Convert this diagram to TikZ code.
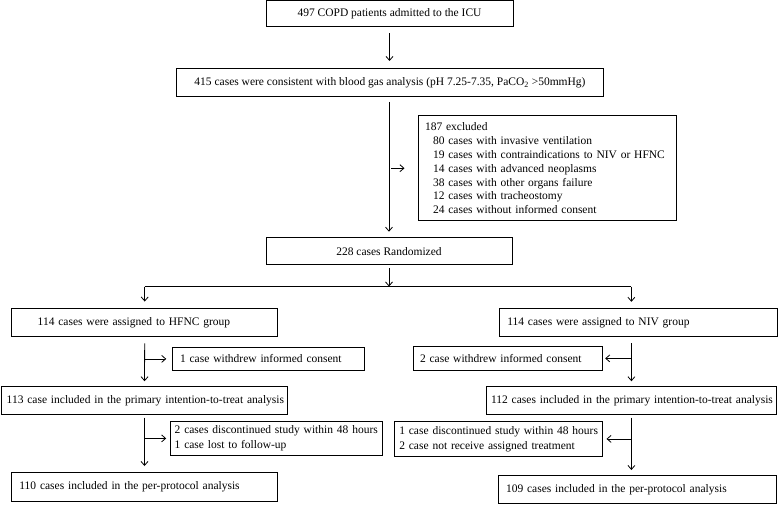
\documentclass[tikz,border=0pt]{standalone}
\usepackage{fontspec}
\setmainfont{Liberation Serif}
\usetikzlibrary{arrows.meta}
\newcommand*{\ind}{\hspace*{8pt}}
\newcommand*{\txt}{\fontsize{11.5}{13.9}\selectfont}
\newcommand*{\txtw}{\fontsize{11.5}{15}\selectfont}

\begin{document}
\begin{tikzpicture}[x=1pt, y=-1pt, font=\txt,
    box/.style={draw, line width=1pt, inner ysep=0pt},
    cbox/.style 2 args={box, align=center, minimum width=#1, minimum height=#2},
    lbox/.style n args={3}{box, align=left, text width=#1, inner xsep=#2, minimum height=#3},
    arr/.style={line width=0.8pt, -{Straight Barb[length=4pt,width=7pt]}}]
    \useasboundingbox (0,0) rectangle (778,505);
        \node [cbox={247pt}{26pt}] (icu) at (389.5,14) {497 COPD patients admitted to the ICU};
        \node [cbox={427pt}{28pt}] (gas) at (390,82.5) {415 cases were consistent with blood gas analysis (pH 7.25-7.35, PaCO\textsubscript{2} >50mmHg)};
        \node [lbox={244pt}{7pt}{105pt}] (excl) at (547,168.2) {187 excluded\\
            \ind 80 cases with invasive ventilation\\
            \ind 19 cases with contraindications to NIV or HFNC\\
            \ind 14 cases with advanced neoplasms\\
            \ind 38 cases with other organs failure\\
            \ind 12 cases with tracheostomy\\
            \ind 24 cases without informed consent};
        \node [cbox={246pt}{27pt}] (rand) at (389,251.2) {228 cases Randomized};
        % HFNC arm
        \node [lbox={214pt}{26pt}{28.7pt}] (hfnc) at (144.7,322.4) {114 cases were assigned to HFNC group};
        \node [lbox={176.7pt}{7.3pt}{22.3pt}] (wdL) at (268.4,358.9) {1 case withdrew informed consent};
        \node [lbox={275.6pt}{5pt}{27.3pt}] (ittL) at (144.5,400.4) {\mbox{113 case included in the primary intention-to-treat analysis}};
        \node [lbox={204pt}{4pt}{33.3pt}, font=\txtw] (discL) at (276.7,438.4) {\mbox{2 cases discontinued study within 48 hours}\\1 case lost to follow-up};
        \node [lbox={249.9pt}{8.3pt}{28.8pt}] (ppL) at (144.3,486.9) {110 cases included in the per-protocol analysis};
        % NIV arm
        \node [lbox={262pt}{8pt}{28.2pt}] (niv) at (638.3,322.4) {114 cases were assigned to NIV group};
        \node [lbox={176pt}{6.7pt}{23.3pt}] (wdR) at (508,358.4) {2 case withdrew informed consent};
        \node [lbox={280.7pt}{5pt}{27.3pt}] (ittR) at (631.4,400.4) {\mbox{112 cases included in the primary intention-to-treat analysis}};
        \node [lbox={197.4pt}{5.3pt}{34.3pt}, font=\txtw] (discR) at (498,438.9) {\mbox{1 case discontinued study within 48 hours}\\\mbox{2 case not receive assigned treatment}};
        \node [lbox={263pt}{7.7pt}{28pt}] (ppR) at (637.5,489.5) {109 cases included in the per-protocol analysis};
        \coordinate (spl) at (389,286.5);
        \draw [arr, shorten <=6pt, shorten >=7pt] (icu.south) -- (icu.south |- gas.north);
        \draw [arr, shorten <=5pt, shorten >=5.5pt] (gas.south -| rand) -- (rand.north);
        \draw [arr, shorten <=2pt, shorten >=13pt] (excl.west -| rand) -- (excl.west);
        \draw [arr, shorten <=3pt] (rand.south) -- (spl);
        \draw [line width=0.8pt] (spl -| hfnc) -- (spl -| ittR);
        \draw [arr, shorten >=6pt] (spl -| hfnc) -- (hfnc.north);
        \draw [arr, shorten >=6pt] (spl -| ittR) -- (niv.north -| ittR);
        \draw [arr, shorten <=6pt, shorten >=5pt] (hfnc.south) -- (ittL.north);
        \draw [arr, shorten >=6pt] (wdL.west -| hfnc) -- (wdL.west);
        \draw [arr, shorten <=3pt, shorten >=6pt] (ittL.south) -- (ppL.north -| ittL);
        \draw [arr, shorten >=4pt] (discL.west -| ittL) -- (discL.west);
        \draw [arr, shorten <=6pt, shorten >=5pt] (niv.south -| ittR) -- (ittR.north);
        \draw [arr, shorten >=2pt] (wdR.east -| ittR) -- (wdR.east);
        \draw [arr, shorten <=3pt, shorten >=5pt] (ittR.south) -- (ppR.north -| ittR);
        \draw [arr, shorten >=4pt] (discR.east -| ittR) -- (discR.east);
    \end{tikzpicture}
\end{document}
